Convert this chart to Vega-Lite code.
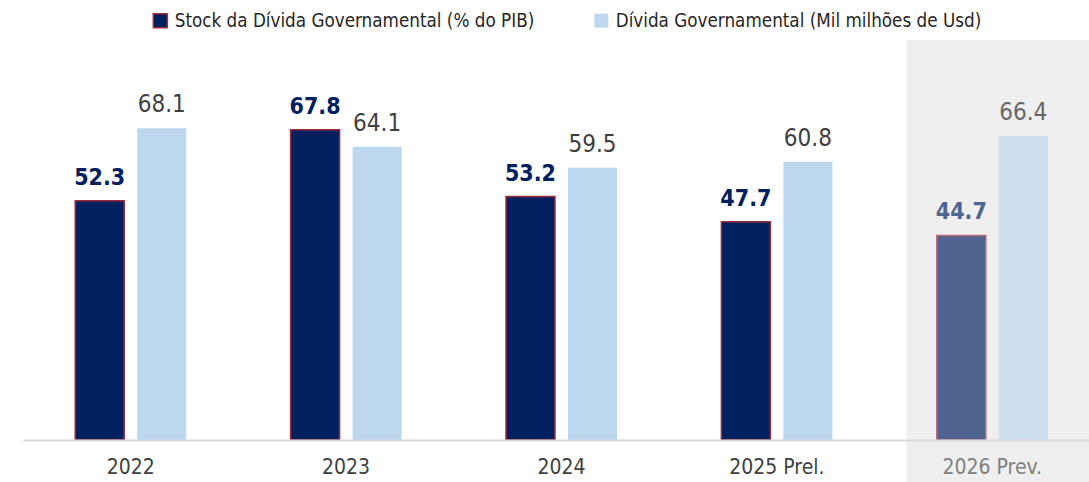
{
  "$schema": "https://vega.github.io/schema/vega-lite/v6.json",
  "width": 1066,
  "height": 400,
  "autosize": {"type": "none"},
  "padding": {"left": 23, "top": 40, "right": 0, "bottom": 42},
  "background": "white",
  "config": {
    "view": {"stroke": null},
    "font": "Liberation Sans Narrow, Arial Narrow, DejaVu Sans Condensed, sans-serif"
  },
  "data": {
    "values": [
      {"year": "2022", "series": "Stock da Dívida Governamental (% do PIB)", "value": 52.3},
      {"year": "2022", "series": "Dívida Governamental (Mil milhões de Usd)", "value": 68.1},
      {"year": "2023", "series": "Stock da Dívida Governamental (% do PIB)", "value": 67.8},
      {"year": "2023", "series": "Dívida Governamental (Mil milhões de Usd)", "value": 64.1},
      {"year": "2024", "series": "Stock da Dívida Governamental (% do PIB)", "value": 53.2},
      {"year": "2024", "series": "Dívida Governamental (Mil milhões de Usd)", "value": 59.5},
      {"year": "2025 Prel.", "series": "Stock da Dívida Governamental (% do PIB)", "value": 47.7},
      {"year": "2025 Prel.", "series": "Dívida Governamental (Mil milhões de Usd)", "value": 60.8},
      {"year": "2026 Prev.", "series": "Stock da Dívida Governamental (% do PIB)", "value": 44.7},
      {"year": "2026 Prev.", "series": "Dívida Governamental (Mil milhões de Usd)", "value": 66.4}
    ]
  },
  "encoding": {
    "x": {
      "field": "year",
      "type": "nominal",
      "sort": ["2022", "2023", "2024", "2025 Prel.", "2026 Prev."],
      "scale": {"domain": ["2022", "2023", "2024", "2025 Prel.", "2026 Prev."], "range": [0, 1077], "paddingInner": 0, "paddingOuter": 0},
      "axis": {
        "title": null,
        "labelAngle": 0,
        "ticks": false,
        "domainColor": "#d9d9d9",
        "domainWidth": 2,
        "labelFontSize": 21,
        "labelPadding": 16,
        "labelColor": {"condition": {"test": "datum.value === '2026 Prev.'", "value": "#808080"}, "value": "#404040"},
        "zindex": 1
      }
    }
  },
  "layer": [
    {
      "transform": [{"filter": "datum.year === '2026 Prev.' && datum.series === 'Dívida Governamental (Mil milhões de Usd)'"}],
      "mark": {"type": "bar", "width": {"band": 0.9}, "xOffset": 11, "color": "#efefef"},
      "encoding": {
        "y": {"datum": 87.4, "type": "quantitative", "scale": {"domain": [0, 87.4], "nice": false}, "axis": null},
        "y2": {"datum": -9.5}
      }
    },
    {
      "mark": {"type": "bar", "strokeWidth": 1.5},
      "encoding": {
        "xOffset": {
          "field": "series",
          "sort": ["Stock da Dívida Governamental (% do PIB)", "Dívida Governamental (Mil milhões de Usd)"],
          "scale": {"paddingInner": 0.21, "paddingOuter": 0.842}
        },
        "y": {"field": "value", "type": "quantitative", "scale": {"domain": [0, 87.4], "nice": false}, "axis": null},
        "fill": {
          "field": "series",
          "type": "nominal",
          "scale": {
            "domain": ["Stock da Dívida Governamental (% do PIB)", "Dívida Governamental (Mil milhões de Usd)"],
            "range": ["#002060", "#BDD7EE"]
          },
          "legend": {
            "title": null,
            "orient": "none",
            "direction": "horizontal",
            "legendX": 128,
            "legendY": -29,
            "symbolType": "square",
            "symbolSize": 196,
            "symbolStrokeWidth": 1.5,
            "labelFontSize": 18.7,
            "labelColor": "#262626",
            "labelOffset": 5,
            "labelLimit": 600,
            "columnPadding": 56,
            "padding": 0
          }
        },
        "stroke": {
          "field": "series",
          "type": "nominal",
          "scale": {
            "domain": ["Stock da Dívida Governamental (% do PIB)", "Dívida Governamental (Mil milhões de Usd)"],
            "range": ["#9E2A3A", "rgba(0,0,0,0)"]
          },
          "legend": {
            "title": null,
            "orient": "none",
            "direction": "horizontal",
            "legendX": 128,
            "legendY": -29,
            "symbolType": "square",
            "symbolSize": 196,
            "symbolStrokeWidth": 1.5,
            "labelFontSize": 18.7,
            "labelColor": "#262626",
            "labelOffset": 5,
            "labelLimit": 600,
            "columnPadding": 56,
            "padding": 0
          }
        },
        "opacity": {"condition": {"test": "datum.year === '2026 Prev.'", "value": 0.67}, "value": 1}
      }
    },
    {
      "transform": [{"filter": "datum.series === 'Stock da Dívida Governamental (% do PIB)'"}],
      "mark": {"type": "text", "fontSize": 23, "fontWeight": "bold", "baseline": "alphabetic", "dy": -16},
      "encoding": {
        "xOffset": {
          "field": "series",
          "sort": ["Stock da Dívida Governamental (% do PIB)", "Dívida Governamental (Mil milhões de Usd)"],
          "scale": {"paddingInner": 0.21, "paddingOuter": 0.842}
        },
        "y": {"field": "value", "type": "quantitative", "scale": {"domain": [0, 87.4], "nice": false}, "axis": null},
        "text": {"field": "value", "type": "quantitative", "format": ".1f"},
        "color": {"condition": {"test": "datum.year === '2026 Prev.'", "value": "#4E6590"}, "value": "#002060"}
      }
    },
    {
      "transform": [{"filter": "datum.series === 'Dívida Governamental (Mil milhões de Usd)'"}],
      "mark": {"type": "text", "fontSize": 24, "baseline": "alphabetic", "dy": -16},
      "encoding": {
        "xOffset": {
          "field": "series",
          "sort": ["Stock da Dívida Governamental (% do PIB)", "Dívida Governamental (Mil milhões de Usd)"],
          "scale": {"paddingInner": 0.21, "paddingOuter": 0.842}
        },
        "y": {"field": "value", "type": "quantitative", "scale": {"domain": [0, 87.4], "nice": false}, "axis": null},
        "text": {"field": "value", "type": "quantitative", "format": ".1f"},
        "color": {"condition": {"test": "datum.year === '2026 Prev.'", "value": "#666666"}, "value": "#404040"}
      }
    }
  ]
}
